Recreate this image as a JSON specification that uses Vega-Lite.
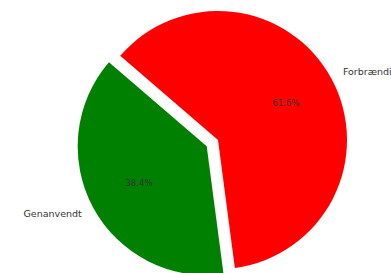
{
  "$schema": "https://vega.github.io/schema/vega-lite/v6.json",
  "width": 436,
  "height": 280,
  "autosize": "none",
  "padding": 0,
  "background": "white",
  "config": {"view": {"stroke": null}},
  "data": {"values": [
    {"name": "Forbrænding", "value": 61.6, "idx": 1, "pct": "61.6%"},
    {"name": "Genanvendt", "value": 38.4, "idx": 2, "pct": "38.4%"}
  ]},
  "encoding": {
    "theta": {"field": "value", "type": "quantitative", "stack": true, "scale": {"range": [-0.86, 5.4232]}},
    "order": {"field": "idx", "type": "ordinal"}
  },
  "layer": [
    {
      "mark": {"type": "arc", "outerRadius": 129},
      "encoding": {
        "color": {"field": "name", "type": "nominal", "scale": {"domain": ["Forbrænding", "Genanvendt"], "range": ["#ff0000", "#008000"]}, "legend": null},
        "opacity": {"condition": {"test": "datum.name === 'Forbrænding'", "value": 1}, "value": 0}
      }
    },
    {
      "mark": {"type": "arc", "outerRadius": 129, "xOffset": -11.3, "yOffset": 6.3},
      "encoding": {
        "color": {"field": "name", "type": "nominal", "legend": null},
        "opacity": {"condition": {"test": "datum.name === 'Genanvendt'", "value": 1}, "value": 0}
      }
    },
    {
      "mark": {"type": "text", "radius": 77, "font": "DejaVu Sans", "fontSize": 8.5, "color": "#333", "align": "center", "baseline": "middle"},
      "encoding": {
        "text": {"field": "pct"},
        "opacity": {"condition": {"test": "datum.name === 'Forbrænding'", "value": 1}, "value": 0}
      }
    },
    {
      "mark": {"type": "text", "radius": 77, "font": "DejaVu Sans", "fontSize": 8.5, "color": "#333", "align": "center", "baseline": "middle", "xOffset": -11.3, "yOffset": 6.3},
      "encoding": {
        "text": {"field": "pct"},
        "opacity": {"condition": {"test": "datum.name === 'Genanvendt'", "value": 1}, "value": 0}
      }
    },
    {
      "mark": {"type": "text", "radius": 142, "font": "DejaVu Sans", "fontSize": 9.5, "color": "#333", "align": "left", "baseline": "middle"},
      "encoding": {
        "text": {"field": "name"},
        "opacity": {"condition": {"test": "datum.name === 'Forbrænding'", "value": 1}, "value": 0}
      }
    },
    {
      "mark": {"type": "text", "radius": 142, "font": "DejaVu Sans", "fontSize": 9.5, "color": "#333", "align": "right", "baseline": "middle", "xOffset": -11.3, "yOffset": 6.3},
      "encoding": {
        "text": {"field": "name"},
        "opacity": {"condition": {"test": "datum.name === 'Genanvendt'", "value": 1}, "value": 0}
      }
    }
  ]
}
